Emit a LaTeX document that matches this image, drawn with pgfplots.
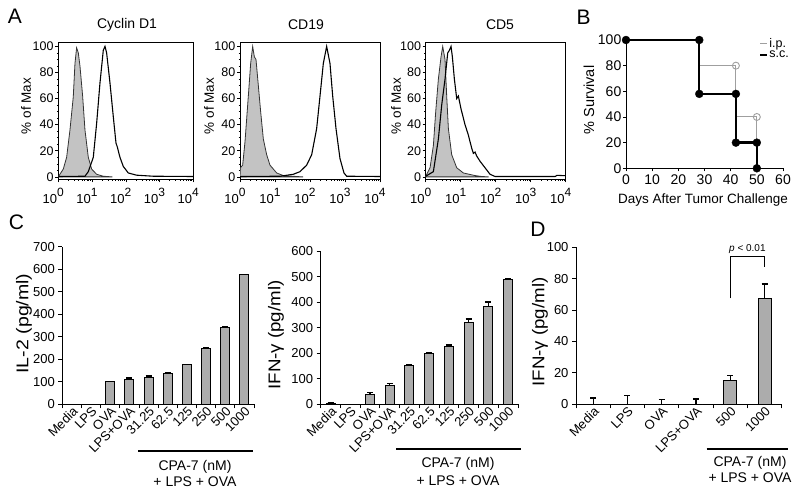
\documentclass[border=0pt]{standalone}
\usepackage{graphicx}
\usepackage{pgfplots}
\pgfplotsset{compat=1.18}
\usepackage{fontspec}
\setmainfont{Liberation Sans}
\newcommand\fs[1]{\fontsize{#1}{#1}\selectfont}
\newcommand\dec[1]{10\raisebox{0.95ex}{\fs{12}#1}}
\definecolor{barg}{RGB}{172,172,172}
\definecolor{histg}{RGB}{195,195,195}
\begin{document}
\begin{tikzpicture}[x=1pt,y=1pt]
\useasboundingbox (0pt,0pt) rectangle (800pt,492pt);
\pgfplotsset{
  histo/.style={scale only axis, anchor=south west, height=137pt,
    xmin=0, xmax=4, ymin=-2, ymax=103,
    xtick={0,1,2,3,4}, xticklabels={\dec0,\dec1,\dec2,\dec3,\dec4},
    ytick={0,20,...,100}, minor y tick num=3,
    minor xtick={0.301,0.477,0.602,0.699,0.778,0.845,0.903,0.954,
      1.301,1.477,1.602,1.699,1.778,1.845,1.903,1.954,
      2.301,2.477,2.602,2.699,2.778,2.845,2.903,2.954,
      3.301,3.477,3.602,3.699,3.778,3.845,3.903,3.954},
    tick align=outside, major tick length=3pt, minor tick length=1.5pt,
    tick pos=left, /pgf/number format/assume math mode=true,
    tick label style={font=\fs{12.5}}, xticklabel style={xshift=-5pt, yshift=-2.5pt, font=\fs{13}},
    yticklabel style={inner sep=1.5pt},
    axis line style={line width=0.9pt}, tick style={line width=0.6pt, black}},
  gfill/.style={fill=histg, draw=black!80, line width=0.8pt},
  oline/.style={draw=black, line width=1.1pt},
  barax/.style={scale only axis, anchor=south west, xmin=0.5, ymin=0,
    axis lines=left, axis line style={-, line width=0.9pt},
    xtick={0.5,1.5,...,10.5}, xticklabels={,,,,,,,,,,,,},
    tick align=outside, major tick length=4pt,
    tick style={line width=0.8pt, black},
    extra x tick style={major tick length=0pt,
      xticklabel style={rotate=45, anchor=north east, font=\fs{13}, inner sep=1pt}},
    y tick label style={font=\fs{13}},
    /pgf/number format/assume math mode=true,
    ybar, bar width=9pt, clip=false},
  barst/.style={fill=barg, draw=black, line width=1pt,
    error bars/.cd, y dir=plus, y explicit,
    error bar style={line width=1.2pt, black},
    error mark options={rotate=90, line width=1.2pt, mark size=3pt, black}},
}
% ---------- Panel A ----------
\begin{axis}[histo, width=135pt, at={(58.3pt,312.5pt)}]
\addplot[gfill] table {
0 0
0.01 0.5
0.148 6
0.247 15
0.346 36
0.444 61.5
0.494 87
0.543 99
0.593 95
0.642 85
0.721 62
0.79 36
0.889 15
0.988 6
1.136 2
1.333 0.5
1.6 0
} \closedcycle;
\addplot[oline] table {
0 0.3
0.79 0.5
0.889 4
1.037 15
1.136 41
1.235 72
1.333 97
1.383 100
1.432 95
1.531 72
1.63 46
1.709 26
1.748 23
1.827 15
1.926 8
2.074 3
2.321 1.3
2.815 0.5
4 0.3
};
\end{axis}
\begin{axis}[histo, width=140pt, at={(240pt,312.5pt)}]
\addplot[gfill] table {
0 0
0.01 7
0.076 9
0.143 27
0.238 62
0.305 87
0.362 100
0.41 92
0.457 90
0.524 70
0.59 50
0.667 29
0.762 17
0.857 9
1.048 3
1.238 1
1.619 0.3
1.8 0
} \closedcycle;
\addplot[oline] table {
0 0.3
1.143 0.5
1.524 2
1.714 4
1.905 9
2.048 17
2.19 37
2.286 62
2.381 87
2.476 100
2.571 87
2.648 62
2.743 37
2.857 14
2.971 3
3.048 0.5
4 0.3
};
\end{axis}
\begin{axis}[histo, width=140pt, at={(425.7pt,312.5pt)}]
\addplot[gfill] table {
0 0
0.01 1
0.124 7
0.219 24
0.286 50
0.362 75
0.438 92
0.486 100
0.552 90
0.6 62
0.648 37
0.743 17
0.886 7
1.076 3
1.41 1
1.6 0.3
1.8 0
} \closedcycle;
\addplot[oline] table {
0 0.5
0.219 4
0.362 29
0.457 55
0.552 75
0.629 95
0.676 97
0.724 100
0.762 92
0.819 75
0.886 60
0.933 62
1.01 52
1.124 40
1.219 32
1.314 22
1.362 18
1.41 19
1.457 16
1.552 12
1.695 7
1.838 2
1.981 0.3
3.7 0.3
3.75 1.2
3.9 1
4 1
};
\end{axis}
% ---------- Panel B ----------
\begin{axis}[scale only axis, anchor=south west, width=157pt, height=128.3pt, at={(626pt,323.7pt)},
  xmin=0, xmax=60, ymin=0, ymax=100, axis lines=left, axis line style={-, line width=0.9pt},
  xtick={0,10,...,60}, ytick={0,20,...,100}, tick align=outside, major tick length=3pt,
  tick style={line width=0.7pt, black},
  clip=false, tick label style={font=\fs{14}}, /pgf/number format/assume math mode=true,
  yticklabel style={inner sep=1.5pt},
  legend style={draw=none, fill=none, at={(1.045,1.02)}, anchor=north east, font=\fs{12.5},
    row sep=0pt, inner sep=0pt, nodes={inner sep=1pt}},
  legend cell align=left,
  legend image code/.code={\draw[#1] (0pt,0pt) -- (7pt,0pt);}]
\addplot[gray!75, line width=1pt, mark=o, mark size=3.5pt, mark indices={4,6},
  mark options={fill=white, line width=0.9pt}] coordinates {
(0,100) (28,100) (28,80) (42,80) (42,40) (50,40) (50,0)};
\addplot[black, line width=2.3pt, mark=*, mark size=4pt, mark options={line width=0.3pt}] coordinates {
(0,100) (28,100) (28,58) (42,58) (42,20) (50,20) (50,0)};
\legend{i.p.,s.c.}
\end{axis}
% ---------- Panel C left ----------
\begin{axis}[barax, width=191.7pt, height=157.6pt, at={(62.3pt,87.7pt)}, xmax=10.5,
  ymax=700, ytick={0,100,...,700},
  extra x ticks={1,...,10},
  extra x tick labels={Media,LPS,OVA,LPS+OVA,31.25,62.5,125,250,500,1000}]
\addplot[barst] table[x=x, y=y, y error=e] {
x y e
3 100 3
4 108 9
5 118 8
6 135 8
7 175 3
8 247 3
9 343 3
10 575 3
};
\end{axis}
% ---------- Panel C right ----------
\begin{axis}[barax, width=197.3pt, height=153.3pt, at={(320.7pt,87.7pt)}, xmax=10.5,
  ymax=600, ytick={0,100,...,600},
  extra x ticks={1,...,10},
  extra x tick labels={Media,LPS,OVA,LPS+OVA,31.25,62.5,125,250,500,1000}]
\addplot[barst] table[x=x, y=y, y error=e] {
x y e
1 4 4
3 39 6
4 75 7
5 150 6
6 197 5
7 225 7
8 319 15
9 383 17
10 488 5
};
\end{axis}
% ---------- Panel D ----------
\begin{axis}[barax, width=205.7pt, height=157pt, at={(576pt,87.7pt)}, xmax=6.5,
  xtick={0.5,1.5,...,6.5}, bar width=13pt,
  ymax=100, ytick={0,20,...,100},
  extra x ticks={1,...,6},
  extra x tick labels={Media,LPS,OVA,LPS+OVA,500,1000}]
\addplot[barst] table[x=x, y=y, y error=e] {
x y e
1 0 4
2 0 5.5
3 0 3.2
4 0 3.4
5 15.3 3
6 67.1 9.5
};
\draw[line width=0.9pt] (axis cs:5,67.5) |- (axis cs:6,94) -- (axis cs:6,87.5);
\node[font=\fs{10}] at (axis cs:5.5,99) {\textit{p} < 0.01};
\end{axis}
% ---------- Texts ----------
\node[font=\fs{21}] at (15pt,475.5pt) {A};
\node[font=\fs{21}] at (583.5pt,474.5pt) {B};
\node[font=\fs{21}] at (16.5pt,269.5pt) {C};
\node[font=\fs{21}] at (538pt,262.5pt) {D};
\node[font=\fs{14}] at (127pt,467pt) {Cyclin D1};
\node[font=\fs{14}] at (306pt,467pt) {CD19};
\node[font=\fs{14}] at (500pt,467pt) {CD5};
\node[font=\fs{13.5}, rotate=90] at (26pt,386pt) {\% of Max};
\node[font=\fs{13.5}, rotate=90] at (209pt,386pt) {\% of Max};
\node[font=\fs{13.5}, rotate=90] at (396pt,386pt) {\% of Max};
\node[font=\fs{14.5}, rotate=90] at (589pt,392pt) {\% Survival};
\node[font=\fs{13.5}] at (703pt,292pt) {Days After Tumor Challenge};
\node[font=\fs{17}, rotate=90] at (24pt,168.5pt) {\scalebox{1.15}[1]{IL-2 (pg/ml)}};
\node[font=\fs{17}, rotate=90] at (276pt,157pt) {\scalebox{1.1}[1]{IFN-γ (pg/ml)}};
\node[font=\fs{17}, rotate=90] at (540pt,160pt) {\scalebox{1.1}[1]{IFN-γ (pg/ml)}};
\draw[line width=2.2pt] (138pt,41.3pt) -- (253pt,41.3pt);
\draw[line width=2.2pt] (396pt,43pt) -- (520.7pt,43pt);
\draw[line width=2.2pt] (706.7pt,43pt) -- (788pt,43pt);
\node[font=\fs{14}] at (195pt,25pt) {CPA-7 (nM)};
\node[font=\fs{14}] at (195pt,10pt) {+ LPS + OVA};
\node[font=\fs{14}] at (458pt,28pt) {CPA-7 (nM)};
\node[font=\fs{14}] at (458pt,11pt) {+ LPS + OVA};
\node[font=\fs{14}] at (750pt,29pt) {CPA-7 (nM)};
\node[font=\fs{14}] at (750pt,14pt) {+ LPS + OVA};
\end{tikzpicture}
\end{document}
